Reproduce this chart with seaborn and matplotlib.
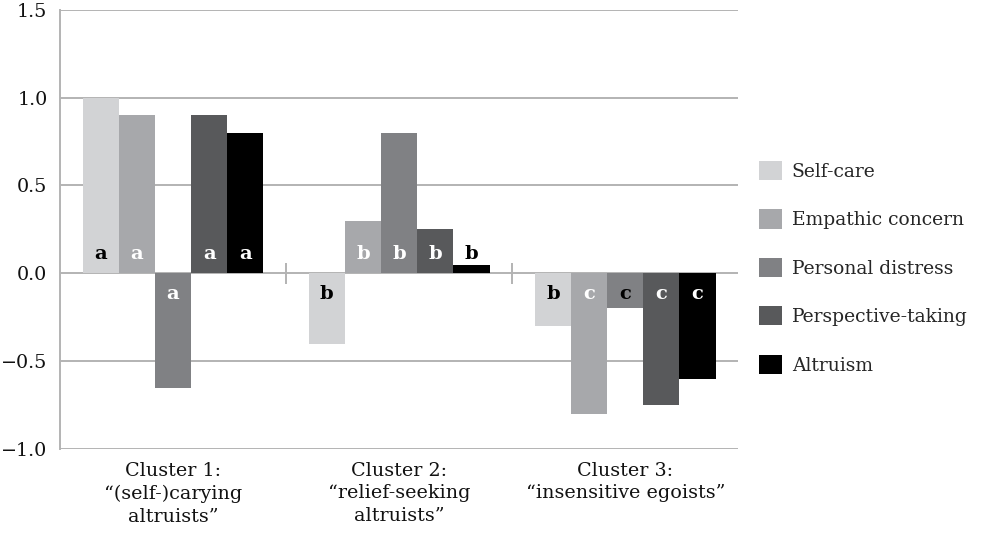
import numpy as np
import pandas as pd
import matplotlib.pyplot as plt
import seaborn as sns

clusters = ['Cluster 1:\n\u201c(self-)carying\naltruists\u201d',
            'Cluster 2:\n\u201crelief-seeking\naltruists\u201d',
            'Cluster 3:\n\u201cinsensitive egoists\u201d']
measures = ['Self-care', 'Empathic concern', 'Personal distress',
            'Perspective-taking', 'Altruism']

self_care = [1.0, -0.4, -0.3]
empathic = [0.9, 0.3, -0.8]
distress = [-0.65, 0.8, -0.2]
perspective = [0.9, 0.25, -0.75]
altruism = [0.8, 0.05, -0.6]

letters = ['a', 'b', 'c']
letters_selfcare = ['a', 'b', 'b']

colors = ['#d2d3d5', '#a7a8ab', '#808184', '#58595b', '#000000']

series = [self_care, empathic, distress, perspective, altruism]
df = pd.DataFrame({
    'cluster': np.tile(clusters, len(measures)),
    'measure': np.repeat(measures, len(clusters)),
    'value': np.concatenate(series),
})

sns.set_style('white')
plt.rcParams['font.family'] = ['DejaVu Serif']

fig = plt.figure(figsize=(9.83, 5.41), dpi=100)
ax = fig.add_axes([0.061, 0.170, 0.690, 0.812])

sns.barplot(data=df, x='cluster', y='value', hue='measure', palette=colors,
            hue_order=measures, order=clusters, width=0.8, saturation=1,
            linewidth=0, edgecolor='none', ax=ax, legend=True)

ax.set_ylim(-1.0, 1.5)
ax.set_yticks([-1.0, -0.5, 0.0, 0.5, 1.0, 1.5])
ax.set_xlim(-0.5, 2.5)
ax.set_xlabel('')
ax.set_ylabel('')
ax.set_axisbelow(True)
ax.yaxis.grid(True, color='#b3b3b3', linewidth=1.4)
for s in ['top', 'right', 'bottom']:
    ax.spines[s].set_visible(False)
ax.spines['left'].set_color('#b3b3b3')
ax.spines['left'].set_linewidth(1.4)
ax.tick_params(axis='both', length=0, colors='#111111')
ax.tick_params(axis='y', pad=9, labelsize=13.8)
ax.tick_params(axis='x', pad=9, labelsize=13.8)
for lbl in ax.get_xticklabels():
    lbl.set_linespacing(1.35)

# zero line tick marks between clusters
ax.vlines([0.5, 1.5], -0.06, 0.06, color='#b3b3b3', linewidth=1.4)

# significance letters
for i, cont in enumerate(ax.containers):
    for j, bar in enumerate(cont):
        v = series[i][j]
        txt = letters_selfcare[j] if i == 0 else letters[j]
        y = 0.11 if v > 0 else -0.12
        inside = abs(v) > 0.2
        col = 'black' if (i == 0 or not inside) else 'white'
        ax.text(bar.get_x() + bar.get_width() / 2, y, txt, ha='center',
                va='center', fontsize=14, fontweight='bold', color=col)

handles, labels = ax.get_legend_handles_labels()
ax.get_legend().remove()
fig.legend(handles, labels, loc='center left', bbox_to_anchor=(0.755, 0.505),
           frameon=False, fontsize=13.5, handlelength=1.2, handleheight=1.2,
           labelspacing=1.52, handletextpad=0.55)

fig.savefig('out.png', dpi=100)
